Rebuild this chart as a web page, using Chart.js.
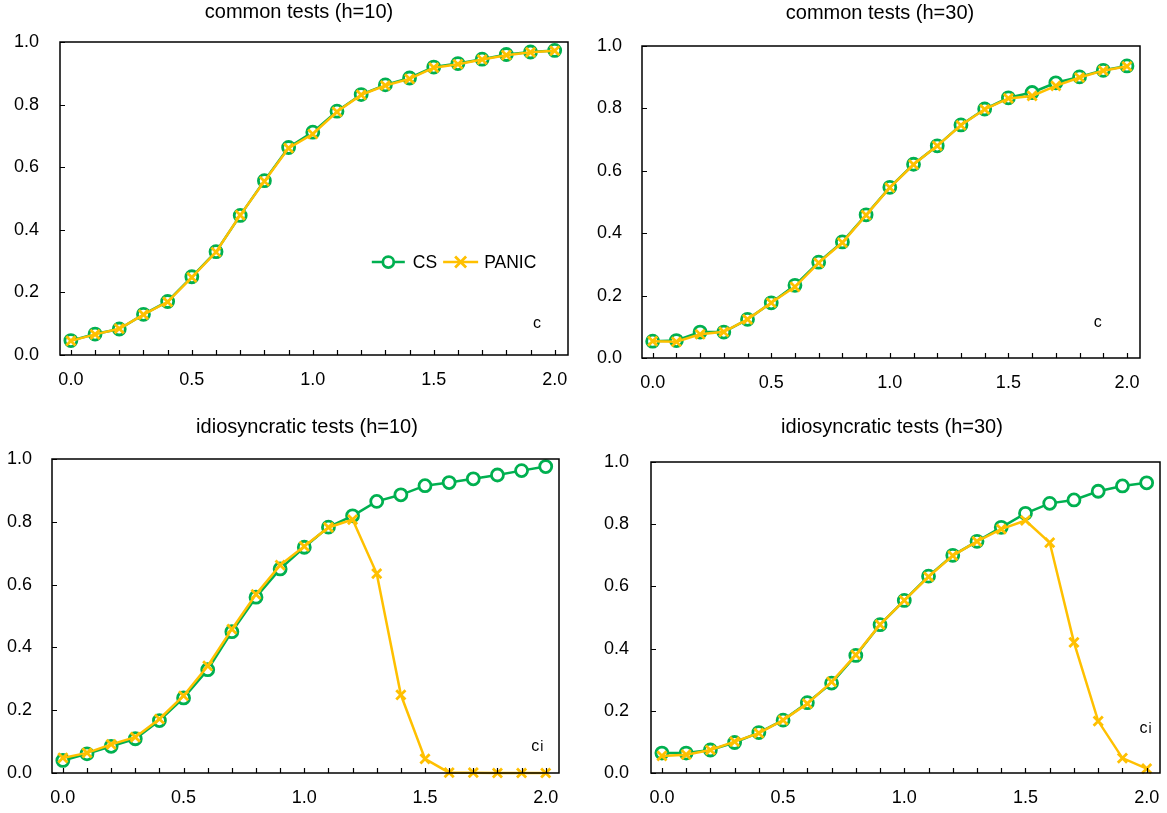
<!DOCTYPE html>
<html>
<head>
<meta charset="utf-8">
<script src="https://cdn.jsdelivr.net/npm/chart.js"></script>
<style>
body { margin: 0; background: #fff; width: 1167px; height: 813px; overflow: hidden; position: relative; }
canvas { position: absolute; }
</style>
</head>
<body>
<canvas id="p1" width="590" height="395" style="left:0px;top:0px"></canvas>
<canvas id="p2" width="588" height="397" style="left:580px;top:1px"></canvas>
<canvas id="p3" width="612" height="398" style="left:0px;top:415px"></canvas>
<canvas id="p4" width="606" height="398" style="left:580px;top:415px"></canvas>
<script>
// x values (c) shared by all four panels
var xs = [0.0, 0.1, 0.2, 0.3, 0.4, 0.5, 0.6, 0.7, 0.8, 0.9, 1.0,
          1.1, 1.2, 1.3, 1.4, 1.5, 1.6, 1.7, 1.8, 1.9, 2.0];
var xTickLabels = ['0.0', '0.5', '1.0', '1.5', '2.0'];
var yTicks = [0.0, 0.2, 0.4, 0.6, 0.8, 1.0];
var seriesNames = ['CS', 'PANIC'];

var csCommon10 = [0.046, 0.067, 0.083, 0.130, 0.171, 0.250, 0.330, 0.446, 0.557, 0.663, 0.712,
                  0.779, 0.832, 0.863, 0.885, 0.920, 0.931, 0.945, 0.960, 0.968, 0.973];
var panicCommon10 = [0.045, 0.066, 0.084, 0.129, 0.170, 0.248, 0.329, 0.447, 0.555, 0.661, 0.706,
                     0.777, 0.831, 0.861, 0.882, 0.918, 0.929, 0.944, 0.958, 0.967, 0.972];

var csCommon30 = [0.054, 0.056, 0.083, 0.083, 0.124, 0.177, 0.233, 0.307, 0.372, 0.459, 0.547,
                  0.621, 0.680, 0.747, 0.798, 0.834, 0.851, 0.882, 0.901, 0.922, 0.936];
var panicCommon30 = [0.054, 0.052, 0.076, 0.084, 0.124, 0.177, 0.228, 0.305, 0.370, 0.458, 0.546,
                     0.620, 0.680, 0.746, 0.797, 0.832, 0.840, 0.872, 0.899, 0.921, 0.935];

var csIdio10 = [0.040, 0.061, 0.085, 0.109, 0.167, 0.239, 0.329, 0.450, 0.560, 0.650, 0.719,
                0.783, 0.819, 0.865, 0.886, 0.915, 0.925, 0.937, 0.949, 0.963, 0.976];
var panicIdio10 = [0.048, 0.064, 0.091, 0.114, 0.172, 0.246, 0.341, 0.458, 0.569, 0.662, 0.722,
                   0.782, 0.807, 0.635, 0.249, 0.045, 0.001, 0.001, 0.000, 0.000, 0.000];

var csIdio30 = [0.064, 0.064, 0.074, 0.098, 0.130, 0.170, 0.226, 0.289, 0.378, 0.477, 0.555,
                0.633, 0.700, 0.745, 0.790, 0.835, 0.867, 0.878, 0.906, 0.923, 0.933];
var panicIdio30 = [0.055, 0.059, 0.074, 0.101, 0.128, 0.170, 0.223, 0.293, 0.380, 0.477, 0.555,
                   0.631, 0.699, 0.745, 0.784, 0.812, 0.741, 0.420, 0.167, 0.048, 0.014];

var GREEN = '#00B050';
var GOLD = '#FFC000';
var FONT = "'Liberation Sans', Arial, sans-serif";

function pairs(ys) {
    return xs.map(function (x, i) { return { x: x, y: ys[i] }; });
}

// box around the plot area, with small inward tick marks
var framePlugin = {
    id: 'frame',
    afterDraw: function (chart) {
        var a = chart.chartArea, ctx = chart.ctx;
        var sx = chart.scales.x, sy = chart.scales.y;
        ctx.save();
        ctx.strokeStyle = '#000';
        ctx.lineWidth = 1.2;
        ctx.beginPath();
        sx.ticks.forEach(function (t) {
            var px = Math.round(sx.getPixelForValue(t.value)) + 0.5;
            ctx.moveTo(px, a.bottom);
            ctx.lineTo(px, a.bottom - 5);
        });
        sy.ticks.forEach(function (t) {
            var py = Math.round(sy.getPixelForValue(t.value)) + 0.5;
            ctx.moveTo(a.left, py);
            ctx.lineTo(a.left + 5, py);
        });
        ctx.stroke();
        ctx.lineWidth = 1.5;
        ctx.strokeRect(a.left, a.top, a.right - a.left, a.bottom - a.top);
        ctx.restore();
    }
};

// small "c" / "ci" note inside the plot
var notePlugin = {
    id: 'note',
    afterDraw: function (chart, args, opts) {
        if (!opts || !opts.text) return;
        var ctx = chart.ctx;
        var px = chart.scales.x.getPixelForValue(opts.x);
        var py = chart.scales.y.getPixelForValue(opts.y);
        ctx.save();
        ctx.fillStyle = '#000';
        ctx.textBaseline = 'alphabetic';
        ctx.font = '16px ' + FONT;
        ctx.fillText(opts.text, px, py);
        if (opts.sub) {
            var w = ctx.measureText(opts.text).width;
            ctx.font = '14px ' + FONT;
            ctx.fillText(opts.sub, px + w + 1, py);
        }
        ctx.restore();
    }
};

// legend drawn inside the first panel
var inlineLegend = {
    id: 'inlineLegend',
    afterDraw: function (chart, args, opts) {
        if (!opts || opts.x === undefined) return;
        var ctx = chart.ctx;
        var x = chart.scales.x.getPixelForValue(opts.x);
        var y = chart.scales.y.getPixelForValue(opts.y);
        ctx.save();
        ctx.font = '17.5px ' + FONT;
        ctx.textBaseline = 'middle';
        chart.data.datasets.forEach(function (ds, i) {
            var len = i === 0 ? 33 : 35;
            ctx.strokeStyle = ds.borderColor;
            ctx.lineWidth = 2.5;
            ctx.beginPath();
            ctx.moveTo(x, y);
            ctx.lineTo(x + len, y);
            ctx.stroke();
            var mx = x + len / 2;
            ctx.lineWidth = 2.8;
            if (ds.pointStyle === 'circle') {
                ctx.fillStyle = '#fff';
                ctx.beginPath();
                ctx.arc(mx, y, 5.5, 0, Math.PI * 2);
                ctx.fill();
                ctx.stroke();
            } else {
                ctx.beginPath();
                ctx.moveTo(mx - 5.5, y - 5.5); ctx.lineTo(mx + 5.5, y + 5.5);
                ctx.moveTo(mx - 5.5, y + 5.5); ctx.lineTo(mx + 5.5, y - 5.5);
                ctx.stroke();
            }
            ctx.fillStyle = '#000';
            var tx = x + len + (i === 0 ? 8 : 6);
            ctx.fillText(ds.label, tx, y + 1);
            x = tx + ctx.measureText(ds.label).width + 6;
        });
        ctx.restore();
    }
};

function makePanel(id, title, cs, panic, p) {
    return new Chart(document.getElementById(id), {
        type: 'line',
        data: {
            datasets: [{
                label: seriesNames[0],
                data: pairs(cs),
                borderColor: GREEN,
                backgroundColor: '#fff',
                borderWidth: 2.5,
                pointStyle: 'circle',
                pointRadius: 6,
                pointBorderWidth: 2.8,
                pointBackgroundColor: '#fff',
                clip: false,
                order: 1
            }, {
                label: seriesNames[1],
                data: pairs(panic),
                borderColor: GOLD,
                backgroundColor: GOLD,
                borderWidth: 2.5,
                pointStyle: 'crossRot',
                pointRadius: 6.5,
                pointBorderWidth: 2.8,
                clip: false,
                order: 0
            }]
        },
        options: {
            responsive: false,
            animation: false,
            devicePixelRatio: 1,
            layout: {
                padding: { left: p.padL, right: 0, top: 0, bottom: 0 }
            },
            plugins: {
                legend: { display: false },
                tooltip: { enabled: false },
                title: {
                    display: true,
                    text: title,
                    color: '#000',
                    font: { family: FONT, size: 20, weight: 'normal', lineHeight: 1.2 },
                    padding: { top: 0, bottom: p.titleGap }
                },
                note: p.note,
                inlineLegend: p.legend || {}
            },
            scales: {
                x: {
                    type: 'linear',
                    min: -0.045,
                    max: 2.055,
                    afterBuildTicks: function (s) {
                        s.ticks = xs.map(function (v) { return { value: v }; });
                    },
                    afterFit: function (s) { s.height = 40; },
                    border: { display: false },
                    grid: { display: false, drawTicks: false },
                    ticks: {
                        autoSkip: false,
                        maxRotation: 0,
                        padding: 14,
                        color: '#000',
                        font: { family: FONT, size: 18 },
                        callback: function (v) {
                            var s = Number(v).toFixed(1);
                            return xTickLabels.indexOf(s) >= 0 && Math.abs(Number(s) - v) < 1e-6 ? s : '';
                        }
                    }
                },
                y: {
                    min: 0,
                    max: 1,
                    afterBuildTicks: function (s) {
                        s.ticks = yTicks.map(function (v) { return { value: v }; });
                    },
                    afterFit: function (s) { s.width = p.yWidth; },
                    border: { display: false },
                    grid: { display: false, drawTicks: false },
                    ticks: {
                        padding: p.yPad - 5,
                        color: '#000',
                        font: { family: FONT, size: 18 },
                        callback: function (v) { return Number(v).toFixed(1); }
                    }
                },
                // empty right-hand box, only there to keep the title centred like the original
                spacer: {
                    type: 'linear',
                    position: 'right',
                    display: true,
                    afterFit: function (s) { s.width = p.spacer; },
                    border: { display: false },
                    grid: { display: false },
                    ticks: { display: false }
                }
            }
        },
        plugins: [framePlugin, notePlugin, inlineLegend]
    });
}

var chart1 = makePanel('p1', 'common tests (h=10)', csCommon10, panicCommon10, {
    padL: 8, yWidth: 52, yPad: 26, spacer: 22, titleGap: 18,
    note: { text: 'c', x: 1.91, y: 0.085 },
    legend: { x: 1.244, y: 0.297 }
});
var chart2 = makePanel('p2', 'common tests (h=30)', csCommon30, panicCommon30, {
    padL: 12, yWidth: 50, yPad: 25, spacer: 28, titleGap: 21,
    note: { text: 'c', x: 1.86, y: 0.10 }
});
var chart3 = makePanel('p3', 'idiosyncratic tests (h=10)', csIdio10, panicIdio10, {
    padL: 2, yWidth: 50, yPad: 25, spacer: 53, titleGap: 20,
    note: { text: 'c', sub: 'i', x: 1.94, y: 0.07 }
});
var chart4 = makePanel('p4', 'idiosyncratic tests (h=30)', csIdio30, panicIdio30, {
    padL: 18, yWidth: 53, yPad: 27, spacer: 26, titleGap: 23,
    note: { text: 'c', sub: 'i', x: 1.97, y: 0.13 }
});
</script>
</body>
</html>
